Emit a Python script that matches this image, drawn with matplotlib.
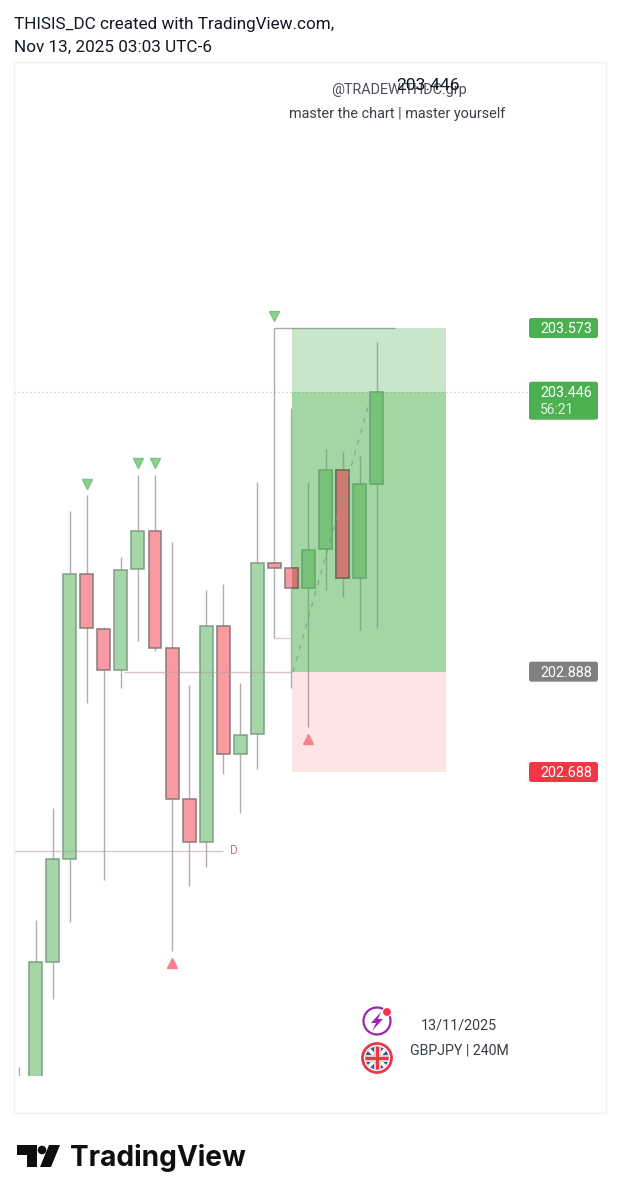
import matplotlib
matplotlib.use('Agg')
import matplotlib.pyplot as plt
from matplotlib.patches import Rectangle, FancyBboxPatch, Circle, Polygon

plt.rcParams['font.family'] = ['Roboto', 'DejaVu Sans']

# candele GBPJPY 240M
bar_index = list(range(22))
opens = [201.90, 202.05, 202.309, 202.515, 203.083, 202.973, 202.891, 203.092, 203.169, 202.935, 202.635,
         202.548, 202.980, 202.723, 202.763, 203.105, 203.094, 203.055, 203.132, 203.289, 203.074, 203.263]
closes = [201.95, 202.309, 202.515, 203.083, 202.975, 202.891, 203.091, 203.169, 202.936, 202.635, 202.548,
          202.980, 202.723, 202.762, 203.105, 203.095, 203.055, 203.130, 203.289, 203.074, 203.262, 203.446]
highs = [202.100, 202.393, 202.616, 203.208, 203.240, 202.977, 203.117, 203.280, 203.280, 203.146, 202.861,
         203.051, 203.063, 202.866, 203.267, 203.573, 203.414, 203.267, 203.332, 203.326, 203.318, 203.545]
lows = [201.90, 202.00, 202.236, 202.390, 202.826, 202.473, 202.856, 202.950, 202.930, 202.331, 202.461,
        202.499, 202.684, 202.606, 202.694, 202.955, 202.856, 202.778, 203.051, 203.037, 202.971, 202.975]

# livelli di prezzo
tp_price = 203.573
last_price = 203.446
entry_price = 202.888
sl_price = 202.688
daily_level = 202.531
swing_level_low = 202.955

# segnali
sell_idx = [4, 7, 8, 15]
sell_price = [203.262, 203.303, 203.303, 203.596]
buy_idx = [9, 17]
buy_price = [202.307, 202.753]

GREEN = '#a5d6a7'
RED = '#f99aa3'
GREEN_EDGE = '#7f9f85'
RED_EDGE = '#8a7a7a'

fig = plt.figure(figsize=(6.2, 12), dpi=100, facecolor='white')

# pannello del prezzo: 501.7 px per unita, 17.05 px per candela
ax = fig.add_axes([14 / 620, (1200 - 1076) / 1200, 592 / 620, (1076 - 62) / 1200])
ax.set_xlim((14 - 18.6) / 17.05, (606 - 18.6) / 17.05)
ax.set_ylim(tp_price - (1076 - 328) / 501.7, tp_price + (328 - 62) / 501.7)
ax.axis('off')

# candele
for i in bar_index:
    up = closes[i] >= opens[i]
    ax.vlines(i, lows[i], highs[i], color='#aeaeae', lw=1, zorder=2)
    ax.bar(i, abs(closes[i] - opens[i]), bottom=min(opens[i], closes[i]), width=0.76,
           color=GREEN if up else RED, edgecolor=GREEN_EDGE if up else RED_EDGE, lw=1.1, zorder=3)

# linee orizzontali
ax.hlines(entry_price, 6.2, 16, color='#b89aa0', lw=1, alpha=0.6, zorder=4)
ax.hlines(daily_level, -0.27, 12, color='#b89aa0', lw=1, alpha=0.55, zorder=4)
ax.hlines(tp_price, 15, 22.08, color='#aaaaaa', lw=1, zorder=1)
ax.hlines(swing_level_low, 15, 16, color='#ecc8cc', lw=1, zorder=1)
ax.hlines(last_price, -0.27, 29.85, color='#a9d3c4', lw=0.9, ls=(0, (1, 2.2)), zorder=1)
ax.text(12.6, daily_level, 'D', color='#b9758c', fontsize=8.6, ha='center', va='center')

# zone take profit e stop loss
tp_box = Rectangle((16.04, entry_price), 9.03, tp_price - entry_price, color='#4caf50', alpha=0.3, lw=0, zorder=4)
ax.add_patch(tp_box)
ax.add_patch(Rectangle((16.04, entry_price), 9.03, last_price - entry_price, color='#4caf50', alpha=0.3, lw=0, zorder=4))
ax.add_patch(Rectangle((16.04, sl_price), 9.03, entry_price - sl_price, color='#f23645', alpha=0.13, lw=0, zorder=4))

# le candele rosse dentro la zona verde restano rossastre
for i in [16, 19]:
    b = ax.bar(i, abs(closes[i] - opens[i]), bottom=min(opens[i], closes[i]), width=0.76,
               color='#cf7a70', edgecolor='#6f6a5f', lw=1.1, zorder=5)
    b[0].set_clip_path(tp_box)

ax.plot([16.1, 20.75], [entry_price, last_price], color='#6fa37a', lw=0.9, alpha=0.75, ls=(0, (4, 5)), zorder=5)

ax.plot(sell_idx, sell_price, 'v', color='#8fd08f', mec='#7cc47f', ms=7.5, zorder=6)
ax.plot(buy_idx, buy_price, '^', color='#f7808c', mec='#f7808c', ms=7.5, zorder=6)

# overlay in pixel per cornice, etichette e loghi
ov = fig.add_axes([0, 0, 1, 1], facecolor='none')
ov.set_xlim(0, 620)
ov.set_ylim(1200, 0)
ov.axis('off')

ov.add_patch(Rectangle((14, 62), 592, 1051, fill=False, ec='#f1f3f6', lw=1))

ov.text(14, 24, 'THISIS_DC created with TradingView.com,', fontsize=12.35, color='#131722', va='center')
ov.text(14, 47, 'Nov 13, 2025 03:03 UTC-6', fontsize=12.35, color='#131722', va='center')

ov.text(399, 90, '@TRADEWITHDC.grp', fontsize=10.4, color='#4a4e59', ha='center', va='center')
ov.text(428, 85, '203.446', fontsize=12.6, color='#131722', ha='center', va='center')
ov.text(397, 114, 'master the chart | master yourself', fontsize=10.35, color='#3a3e49', ha='center', va='center')


def price_y(price):
    return 1200 - ax.transData.transform((0, price))[1]


def price_tag(price, color, lines, h=20):
    y = price_y(price)
    ov.add_patch(FancyBboxPatch((529, y - 10), 69, h, boxstyle='round,pad=0,rounding_size=2.5',
                                fc=color, ec='none'))
    ov.text(540, y + 1, lines[0], color='white', fontsize=10.4, va='center')
    if len(lines) > 1:
        ov.text(540, y + 18, lines[1], color='#e3f3e3', fontsize=10, va='center')


price_tag(tp_price, '#4caf50', ['203.573'])
price_tag(last_price, '#4caf50', ['203.446', '56:21'], h=38)
price_tag(entry_price, '#808080', ['202.888'])
price_tag(sl_price, '#f23645', ['202.688'])

ov.text(459, 1026, '13/11/2025', fontsize=10.3, color='#3a3e49', ha='center', va='center')
ov.text(459, 1050, 'GBPJPY | 240M', fontsize=10.2, color='#3a3e49', ha='center', va='center')

# icona lampo
ov.add_patch(Circle((377, 1021), 13.5, fill=False, ec='#9c27b0', lw=1.6))
ov.add_patch(Polygon([(381, 1012), (371, 1023), (376, 1023), (372, 1031), (383, 1019), (378, 1019)],
                     fc='#9c27b0', ec='none'))
ov.add_patch(Circle((387, 1012), 4.5, fc='#f23645', ec='white', lw=0.8))

# icona bandiera UK
ov.add_patch(Circle((377, 1058), 11.5, fc='#2a5aa0', ec='none'))
flag = Circle((377, 1058), 11.5, transform=ov.transData)
for p in [Polygon([(364, 1047), (367, 1045), (390, 1069), (387, 1071)], fc='white', ec='none'),
          Polygon([(390, 1047), (387, 1045), (364, 1069), (367, 1071)], fc='white', ec='none'),
          Rectangle((373.5, 1044), 7, 28, fc='#f3c9cc', ec='none'),
          Rectangle((363, 1054.5), 28, 7, fc='#f3c9cc', ec='none'),
          Rectangle((375.5, 1044), 3, 28, fc='#e53945', ec='none'),
          Rectangle((363, 1056.5), 28, 3, fc='#e53945', ec='none')]:
    ov.add_patch(p)
    p.set_clip_path(flag)
ov.add_patch(Circle((377, 1058), 14.5, fill=False, ec='#e53945', lw=2))

# logo TradingView
ov.add_patch(Polygon([(17, 1145), (37, 1145), (37, 1167), (27, 1167), (27, 1155), (17, 1155)], fc='#0f0f0f', ec='none'))
ov.add_patch(Circle((42, 1150), 4.3, fc='#0f0f0f', ec='none'))
ov.add_patch(Polygon([(49, 1145), (60, 1145), (51, 1167), (40, 1167)], fc='#0f0f0f', ec='none'))
ov.text(70, 1158, 'TradingView', fontsize=20.2, fontweight='bold', family=['Inter', 'DejaVu Sans'],
        color='#0f0f0f', va='center')

fig.savefig('out.png', dpi=100)
